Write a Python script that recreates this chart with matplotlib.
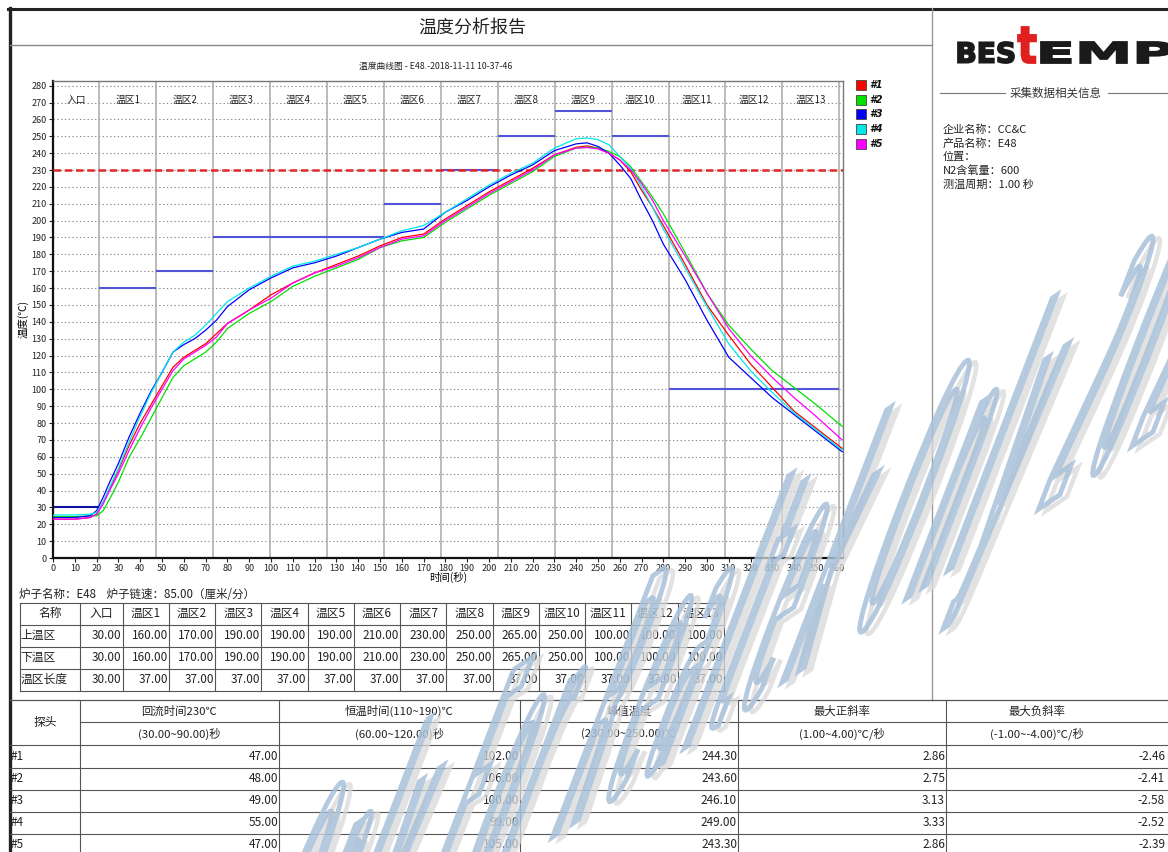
import numpy as np
import matplotlib
matplotlib.use('Agg')
import matplotlib.pyplot as plt
from matplotlib.patches import Rectangle, PathPatch
from matplotlib.textpath import TextPath, TextToPath
from matplotlib.font_manager import FontProperties
from matplotlib.transforms import Affine2D

plt.rcParams['font.family'] = ['Noto Sans CJK SC', 'DejaVu Sans']
plt.rcParams['axes.unicode_minus'] = False

#--------------------------------
# data read from the report
#--------------------------------
times = [0, 10, 17, 20, 23, 26, 30, 35, 40, 45, 50, 55, 60, 65, 70, 75, 80, 90, 100, 110,
         120, 130, 140, 150, 160, 170, 180, 190, 200, 210, 220, 230, 240, 245, 250, 255,
         260, 265, 270, 275, 280, 290, 300, 310, 320, 330, 340, 350, 362]

probe1 = [23, 23, 24, 26, 33, 41, 52, 67, 80, 91, 102, 113, 119, 123, 127, 133, 139, 147, 156, 163,
          169, 174, 179, 185, 190, 192, 201, 209, 217, 224, 231, 239, 243.5, 244.3, 243, 240,
          236, 229, 218, 208, 197, 174, 150, 132, 115, 101, 87, 77, 65]
probe2 = [24.5, 24.5, 25, 25, 28, 35, 45, 60, 71, 83, 95, 107, 114, 118, 122, 128, 136, 145, 152, 161,
          167, 172, 177, 184, 188, 190, 199, 207, 215, 222, 229, 238, 243, 243.6, 243, 241,
          238, 232, 223, 214, 204, 181, 157, 138, 124, 111, 101, 91, 78]
probe3 = [24, 24, 25, 28, 36, 45, 56, 72, 86, 99, 110, 122, 126.5, 130, 135, 141, 149, 159, 166, 172,
          175, 179, 184, 189, 193, 195, 205, 212, 220, 227, 233, 241.5, 245.5, 246.1, 244, 240,
          233, 225, 212, 200, 186, 165, 141, 119, 107, 95, 85, 75, 63]
probe4 = [25.5, 25.5, 26, 27, 33, 42, 53, 69, 84, 98, 110, 122, 128, 132, 138, 145, 152, 160, 167, 173,
          176, 180, 184, 189, 194, 197, 205, 213, 221, 228, 234, 243, 248.5, 249, 248, 245,
          238, 231, 220, 208, 195, 172, 149, 127, 111, 98, 86, 76, 64]
probe5 = [23, 23, 24, 26, 32, 40, 50, 64, 77, 89, 100, 111, 118, 122, 126, 131, 139, 147, 154, 163,
          169, 173, 178, 184, 189, 191, 200, 208, 216, 223, 230, 239, 243, 243.3, 242.5, 240,
          236, 230, 222, 212, 200, 179, 157, 136, 120, 107, 95, 84, 70]

probe_names = ['#1', '#2', '#3', '#4', '#5']
probe_colors = ['#ff0000', '#00e000', '#0000ff', '#00e8e8', '#ff00ff']

zone_names = ['入口', '温区1', '温区2', '温区3', '温区4', '温区5', '温区6', '温区7',
              '温区8', '温区9', '温区10', '温区11', '温区12', '温区13']
upper_set = [30, 160, 170, 190, 190, 190, 210, 230, 250, 265, 250, 100, 100, 100]
lower_set = [30, 160, 170, 190, 190, 190, 210, 230, 250, 265, 250, 100, 100, 100]
zone_len = [30, 37, 37, 37, 37, 37, 37, 37, 37, 37, 37, 37, 37, 37]
chain_speed = 85.00
reflow_limit = 230

reflow_time = [47.00, 48.00, 49.00, 55.00, 47.00]
soak_time = [102.00, 106.00, 100.00, 99.00, 105.00]
peak_temp = [244.30, 243.60, 246.10, 249.00, 243.30]
max_rise = [2.86, 2.75, 3.13, 3.33, 2.86]
max_fall = [-2.46, -2.41, -2.58, -2.52, -2.39]

info_labels = ['企业名称', '产品名称', '位置', 'N2含氧量', '测温周期']
info_values = ['CC&C', 'E48', '', '600', '1.00 秒']

watermark = 'Only For Realtek Only 2022/11'

#--------------------------------
# page
#--------------------------------
W, H = 1168, 852
fig = plt.figure(figsize=(W / 100, H / 100), dpi=100, facecolor='white')
pg = fig.add_axes([0, 0, 1, 1])
pg.set_xlim(0, W)
pg.set_ylim(H, 0)
pg.axis('off')

line_c = '#555555'
pg.plot([8, W], [8.5, 8.5], color='#222222', lw=2.2)
pg.plot([9.5, 9.5], [8, H], color='#222222', lw=2.4)
pg.plot([10, 932], [45, 45], color='#888888', lw=1)
pg.plot([932, 932], [8, 700], color='#999999', lw=1)

pg.text(472, 28, '温度分析报告', ha='center', va='center', fontsize=13, color='#222')

# logo
fp = FontProperties(family='DejaVu Sans', weight='bold')


def logo_piece(s, x0, x1, ytop, ybot, color):
    tp = TextPath((0, 0), s, size=100, prop=fp)
    bb = tp.get_extents()
    tr = Affine2D().translate(-bb.x0, -bb.y0).scale((x1 - x0) / bb.width,
                                                    -(ybot - ytop) / bb.height).translate(x0, ybot)
    pg.add_patch(PathPatch(tr.transform_path(tp), facecolor=color, edgecolor=color, lw=1.3))


logo_piece('BES', 958, 1014, 42, 63, '#1a1a1a')
logo_piece('t', 1018, 1036, 27, 63, '#e02020')
logo_piece('EMP', 1041, 1172, 42, 63, '#1a1a1a')

pg.plot([940, 1005], [93, 93], color='#777', lw=0.8)
pg.plot([1108, W], [93, 93], color='#777', lw=0.8)
pg.text(1056, 93, '采集数据相关信息', ha='center', va='center', fontsize=8.3, color='#333')
for i, (lab, val) in enumerate(zip(info_labels, info_values)):
    pg.text(943, 130 + i * 13.6, lab + '：' + val, ha='left', va='center', fontsize=8, color='#222')

#--------------------------------
# chart
#--------------------------------
ax = fig.add_axes([53 / W, (H - 558) / H, 790 / W, (558 - 80.6) / H])
ax.set_xlim(0, 362.4)
ax.set_ylim(0, 283)
ax.set_facecolor('white')

edges = np.concatenate([[0], np.cumsum(zone_len)]) / chain_speed * 60.0

for y in range(10, 281, 10):
    ax.axhline(y, color='#8a8a8a', lw=0.8, ls=(0, (1.2, 2.2)), zorder=1)
for e in edges[1:]:
    ax.axvline(e, color='#a8a8a8', lw=1.1, zorder=1)

for i in range(len(zone_names)):
    c = '#1010a0' if i == 0 else '#5454d8'
    ax.hlines(upper_set[i], edges[i], edges[i + 1], color=c, lw=1.5, zorder=2)
    ax.text((edges[i] + edges[i + 1]) / 2, 271.5, zone_names[i], ha='center', va='center',
            fontsize=7, color='#222')

ax.axhline(reflow_limit, color='#e02828', lw=1.8, ls=(0, (3, 1.5)), zorder=3)

for p, c in zip([probe1, probe2, probe3, probe4, probe5], probe_colors):
    ax.plot(times, p, color=c, lw=0.9, zorder=4)

ax.set_xticks(range(0, 361, 10))
ax.set_yticks(range(0, 281, 10))
ax.tick_params(labelsize=6.5, length=3, width=0.8, pad=1.5, colors='#222')
for s in ['left', 'bottom']:
    ax.spines[s].set_linewidth(1.6)
    ax.spines[s].set_color('#111')
for s in ['top', 'right']:
    ax.spines[s].set_linewidth(1)
    ax.spines[s].set_color('#777')
ax.set_xlabel('时间(秒)', fontsize=7.5, labelpad=-1)
ax.set_ylabel('温度(℃)', fontsize=7.5, labelpad=2)

pg.text(436, 66, '温度曲线图 - E48.-2018-11-11 10-37-46', ha='center', va='center', fontsize=6.3,
        color='#222')

# legend
for i, (n, c) in enumerate(zip(probe_names, probe_colors)):
    yc = 85 + i * 14.7
    pg.add_patch(Rectangle((856, yc - 5), 10, 10, facecolor=c, edgecolor='#444', lw=0.6))
    pg.text(869, yc, n, ha='left', va='center', fontsize=7, fontweight='bold', style='italic',
            family='DejaVu Sans', color='#111')

#--------------------------------
# zone table
#--------------------------------
pg.text(19, 595, '炉子名称：E48    炉子链速：%.2f（厘米/分）' % chain_speed, ha='left', va='center',
        fontsize=8.3, color='#222')
t1_cols = [19.6, 80, 122.5] + [122.5 + 46.27 * k for k in range(1, 14)]
t1_rows = [602.7, 624.5, 646.5, 668.5, 690.5]
for y in t1_rows:
    pg.plot([t1_cols[0], t1_cols[-1]], [y, y], color=line_c, lw=0.8)
for x in t1_cols:
    pg.plot([x, x], [t1_rows[0], t1_rows[-1]], color=line_c, lw=0.8)

row_labels = ['名称', '上温区', '下温区', '温区长度']
row_vals = [None, upper_set, lower_set, zone_len]
for r in range(4):
    yc = (t1_rows[r] + t1_rows[r + 1]) / 2
    if r == 0:
        pg.text((t1_cols[0] + t1_cols[1]) / 2, yc, row_labels[0], ha='center', va='center',
                fontsize=8.5, color='#222')
        for j, z in enumerate(zone_names):
            pg.text((t1_cols[j + 1] + t1_cols[j + 2]) / 2, yc, z, ha='center', va='center',
                    fontsize=8.5, color='#222')
    else:
        pg.text(t1_cols[0] + 0.5, yc, row_labels[r], ha='left', va='center', fontsize=8.5, color='#222')
        for j, v in enumerate(row_vals[r]):
            pg.text(t1_cols[j + 2] - 1, yc, '%.2f' % v, ha='right', va='center', fontsize=8.5,
                    color='#222')

#--------------------------------
# probe table
#--------------------------------
bt_cols = [10, 80, 279, 520, 738, 946, 1166]
bt_rows = [700, 722, 745, 768, 790, 812, 834, 856]
pg.plot([10, W], [700, 700], color=line_c, lw=0.9)
pg.plot([80, W], [722, 722], color=line_c, lw=0.8)
for y in bt_rows[2:]:
    pg.plot([10, W], [y, y], color=line_c, lw=0.8)
for x in bt_cols[1:-1]:
    pg.plot([x, x], [700, H], color=line_c, lw=0.8)

head1 = ['回流时间230℃', '恒温时间(110~190)℃', '峰值温度', '最大正斜率', '最大负斜率']
head2 = ['(30.00~90.00)秒', '(60.00~120.00)秒', '(230.00~250.00)℃', '(1.00~4.00)℃/秒',
         '(-1.00~-4.00)℃/秒']
pg.text(45, 722, '探头', ha='center', va='center', fontsize=8.5, color='#222')
for j in range(5):
    xc = (bt_cols[j + 1] + bt_cols[j + 2]) / 2 if j < 4 else 1037
    pg.text(xc, 711, head1[j], ha='center', va='center', fontsize=8.2, color='#222')
    pg.text(xc, 733.5, head2[j], ha='center', va='center', fontsize=8.2, color='#222')

cols_vals = [reflow_time, soak_time, peak_temp, max_rise, max_fall]
for i, n in enumerate(probe_names):
    yc = (bt_rows[i + 2] + bt_rows[i + 3]) / 2
    pg.text(11, yc, n, ha='left', va='center', fontsize=8.5, color='#222')
    for j in range(5):
        pg.text(bt_cols[j + 2] - 1, yc, '%.2f' % cols_vals[j][i], ha='right', va='center',
                fontsize=8.5, color='#222')

#--------------------------------
# watermark over everything: tall thin outlined letters, spread out
#--------------------------------
wm = fig.add_axes([0, 0, 1, 1], zorder=10)
wm.set_xlim(0, W)
wm.set_ylim(H, 0)
wm.axis('off')
wm.patch.set_alpha(0)

wfp = FontProperties(family='DejaVu Sans', weight='normal')
t2p = TextToPath()


def adv(s):
    return t2p.get_text_width_height_descent(s, wfp, ismath=False)[0] * 100 / wfp.get_size_in_points()


a, b = np.radians(34), np.radians(69)
u = np.array([np.cos(a), -np.sin(a)])
v = np.array([np.cos(b), -np.sin(b)])
cap = 280
sy = cap / 73.0
s_adv = 985 / adv(watermark[:watermark.index('2')])
s_gly = s_adv * 0.62
origin = np.array([210, 1068])
for i, ch in enumerate(watermark):
    if ch == ' ':
        continue
    g = TextPath((0, 0), ch, size=100, prop=wfp)
    wc = adv(ch)
    s0 = (adv(watermark[:i]) + wc / 2) * s_adv
    M = np.array([[s_gly * u[0], sy * v[0], origin[0] + (s0 - wc / 2 * s_gly) * u[0]],
                  [s_gly * u[1], sy * v[1], origin[1] + (s0 - wc / 2 * s_gly) * u[1]],
                  [0, 0, 1]])
    gp = Affine2D(M).transform_path(g)
    wm.add_patch(PathPatch(Affine2D().translate(7, 2).transform_path(gp), facecolor='none',
                           edgecolor='#d9d9d9', lw=3.2, alpha=0.75))
    wm.add_patch(PathPatch(gp, facecolor='none', edgecolor='#a9c1da', lw=3.5, alpha=0.85))

fig.savefig('out.png', dpi=100, facecolor='white')
